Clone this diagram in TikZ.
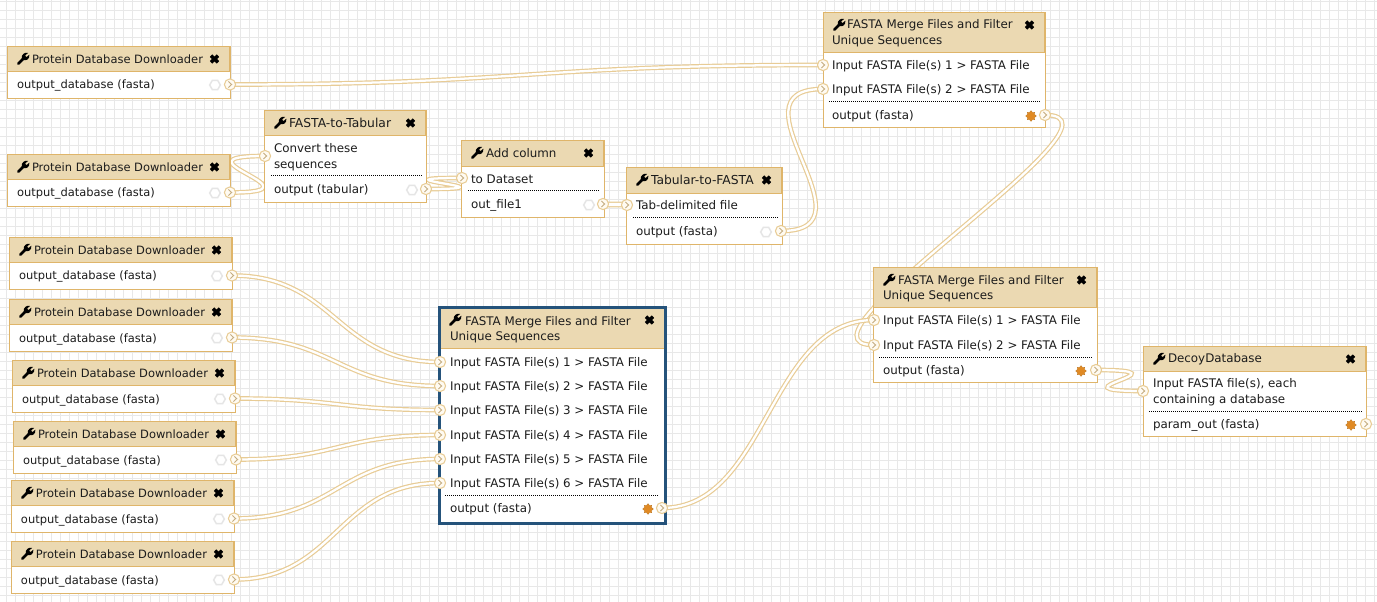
\documentclass[tikz,border=0pt]{standalone}
\usepackage{fontspec}
\setmainfont{DejaVu Sans}
\usetikzlibrary{calc,shapes.geometric}
\definecolor{tanline}{HTML}{DFB56A}
\definecolor{wirecol}{HTML}{E8CC96}
\definecolor{headfill}{HTML}{EBD9B2}
\definecolor{bluebord}{HTML}{25537B}
\definecolor{gridcol}{HTML}{E8E8E8}
\definecolor{inktext}{HTML}{1C1C1C}
\definecolor{termfill}{HTML}{FFFBF2}
\definecolor{orangemk}{HTML}{E08A24}
\pgfdeclarelayer{wires}
\pgfsetlayers{wires,main}
\tikzset{
  x=0.75pt,y=-0.75pt,
  gridline/.style={draw=gridcol,line width=0.75pt},
  wire/.style={draw=wirecol,line width=0.9pt,double=white,double distance=1.7pt},
  body/.style={draw=tanline,fill=white,line width=0.72pt,anchor=north west,inner sep=0pt,outer sep=0pt},
  selbody/.style={body,draw=bluebord,line width=2.25pt},
  headrule/.style={draw=tanline,fill=headfill,line width=0.6pt},
  lbl/.style={anchor=base west,inner sep=0pt,outer sep=0pt,text=inktext,font=\fontsize{8.9}{11}\selectfont},
  lblnarrow/.style={lbl,font=\fontsize{8.6}{11}\selectfont},
  lblwide/.style={lbl,font=\fontsize{9.25}{11}\selectfont},
  sep/.style={draw=black,line width=0.75pt,dash pattern=on 0.75pt off 0.75pt},
  term/.style={circle,draw=wirecol,fill=termfill,line width=0.8pt,minimum size=8.4pt,inner sep=0pt,outer sep=0pt},
  chev/.style={draw=wirecol!85!black,line width=0.7pt},
  graymk/.style={regular polygon,regular polygon sides=6,draw=black!10,fill=white,line width=1.1pt,minimum size=8pt,inner sep=0pt},
  orangemark/.style={star,star points=8,star point ratio=1.35,draw=orangemk!80!black,fill=orangemk,line width=0.2pt,minimum size=8pt,inner sep=0pt},
  pics/wrenchicon/.style={code={
    \begin{scope}[scale=1.12]
    \draw[black,line width=2pt,line cap=round] (1.2,10) -- (5.8,5.4);
    \fill[black] (4.2,5.5) .. controls (3.6,1.8) and (7,-0.6) .. (10,0.4) -- (7.2,2.6) -- (8.4,4.2) -- (11,2) .. controls (11.6,5.5) and (8.6,7.6) .. (5.8,6.8) -- cycle;
    \end{scope}
  }},
  pics/closeicon/.style={code={
    \draw[black,line width=2.6pt] (-3.5,-3.3) -- (3.5,3.3) (-3.5,3.3) -- (3.5,-3.3);
  }}
}
% name, x1, y1, x2, y2, y of header bottom, body style
\newcommand{\wfstep}[7]{%
  \node[#7,minimum width={(#4-#2)*0.75pt},minimum height={(#5-#3)*0.75pt}] (#1) at (#2,#3) {};
  \path[headrule] ({#2+0.5},{#3+0.5}) rectangle ({#4-0.5},#6);
  \draw[#7,fill=none,minimum width=0pt] (#2,#3) rectangle (#4,#5);
  \pic at ({#2+10},{#3+6.5}) {wrenchicon};
  \pic at ({#4-15.5},{#3+13}) {closeicon};
}
\newcommand{\lbl}[5][lbl]{\node[#1] (#2) at (#3,{#4+4.5}) {#5};}
\newcommand{\sepline}[3]{\draw[sep] (#1,#3) -- (#2,#3);}
\newcommand{\termn}[3]{%
  \node[term] (#1) at (#2,#3) {};
  \draw[chev] ({#2-1.6},{#3-3}) -- ({#2+1.6},#3) -- ({#2-1.6},{#3+3});
}
\newcommand{\wireto}[2]{%
  \begin{pgfonlayer}{wires}
  \draw[wire] let \p1=(#1.center),\p2=(#2.center),
     \n1={min(max(abs(\x2-\x1)/2,75),225)*1pt} in
     (\p1) .. controls ($(\p1)+(\n1,0pt)$) and ($(\p2)-(\n1,0pt)$) .. (\p2);
  \end{pgfonlayer}
}
% Protein Database Downloader: name, x1, y1
\newcommand{\pdb}[3]{%
  \wfstep{#1}{#2}{#3}{#2+223}{#3+52}{#3+25}{body}
  \lbl[lblnarrow]{#1-title}{#2+25}{#3+13}{Protein Database Downloader}
  \lbl[lblnarrow]{#1-row}{#2+10}{#3+38.5}{output\_database (fasta)}
  \node[graymk] (#1-mark) at ({#2+208},{#3+39}) {};
  \termn{#1-out}{#2+223}{#3+38.5}
}
\begin{document}
\begin{tikzpicture}
\useasboundingbox (0,0) rectangle (1377,602);
\begin{pgfonlayer}{wires}
  \fill[white] (0,0) rectangle (1377,602);
  \foreach \gx in {0,...,152} {\draw[gridline] ({6.5+9*\gx},0) -- ({6.5+9*\gx},602);}
  \foreach \gy in {0,...,66} {\draw[gridline] (0,{1.5+9*\gy}) -- (1377,{1.5+9*\gy});}
\end{pgfonlayer}

\pdb{pa}{7}{46}
\pdb{pb}{7}{154}
\pdb{pc}{9}{237}
\pdb{pd}{9}{299}
\pdb{pe}{12}{360}
\pdb{pf}{13}{421}
\pdb{pg}{11}{480}
\pdb{ph}{11}{541}

% FASTA-to-Tabular
\wfstep{ft}{264}{110}{426}{202}{135}{body}
\lbl[lblwide]{ft-title}{289}{123}{FASTA-to-Tabular}
\lbl{ft-r1}{274}{148}{Convert these}
\lbl{ft-r2}{274}{164}{sequences}
\sepline{271}{422}{176}
\lbl{ft-r3}{274}{189}{output (tabular)}
\node[graymk] (ft-mark) at (412,190) {};
\termn{ft-in}{265}{156}
\termn{ft-out}{426}{189}

% Add column
\wfstep{ac}{461}{140}{604}{217}{166}{body}
\lbl{ac-title}{486}{153}{Add column}
\lbl{ac-r1}{471}{179}{to Dataset}
\sepline{468}{600}{191}
\lbl{ac-r2}{471}{204}{out\_file1}
\node[graymk] (ac-mark) at (589,205) {};
\termn{ac-in}{462}{178}
\termn{ac-out}{603}{204}

% Tabular-to-FASTA
\wfstep{tf}{626}{167}{782}{244}{193}{body}
\lbl[lblwide]{tf-title}{651}{180}{Tabular-to-FASTA}
\lbl{tf-r1}{636}{205}{Tab-delimited file}
\sepline{633}{778}{218}
\lbl{tf-r2}{636}{231}{output (fasta)}
\node[graymk] (tf-mark) at (766,232) {};
\termn{tf-in}{627}{205}
\termn{tf-out}{781}{231}

% Merge 1
\wfstep{ma}{823}{12}{1045}{127}{52}{body}
\lbl{ma-title}{847}{24}{FASTA Merge Files and Filter}
\lbl{ma-title2}{832}{40}{Unique Sequences}
\lbl{ma-r1}{832}{65}{Input FASTA File(s) 1 > FASTA File}
\lbl{ma-r2}{832}{89}{Input FASTA File(s) 2 > FASTA File}
\sepline{829}{1041}{102}
\lbl{ma-r3}{832}{115}{output (fasta)}
\node[orangemark] (ma-mark) at (1031,116) {};
\termn{ma-in1}{823}{65}
\termn{ma-in2}{823}{89}
\termn{ma-out}{1045}{115}

% Merge 2
\wfstep{mb}{873}{267}{1097}{382}{307}{body}
\lbl{mb-title}{898}{280}{FASTA Merge Files and Filter}
\lbl{mb-title2}{883}{295}{Unique Sequences}
\lbl{mb-r1}{883}{320}{Input FASTA File(s) 1 > FASTA File}
\lbl{mb-r2}{883}{345}{Input FASTA File(s) 2 > FASTA File}
\sepline{879}{1092}{357}
\lbl{mb-r3}{883}{370}{output (fasta)}
\node[orangemark] (mb-mark) at (1081,371) {};
\termn{mb-in1}{874}{320}
\termn{mb-in2}{874}{345}
\termn{mb-out}{1096}{370}

% Decoy
\wfstep{dd}{1143}{346}{1366}{436}{371}{body}
\lbl{dd-title}{1168}{358}{DecoyDatabase}
\lbl{dd-r1}{1153}{383}{Input FASTA file(s), each}
\lbl{dd-r2}{1153}{399}{containing a database}
\sepline{1149}{1362}{411}
\lbl{dd-r3}{1153}{424}{param\_out (fasta)}
\node[orangemark] (dd-mark) at (1351,425) {};
\termn{dd-in}{1143}{391}
\termn{dd-out}{1366}{424}

% Selected merge
\wfstep{mc}{439}{307}{665}{523}{348}{selbody}
\lbl{mc-title}{465}{321}{FASTA Merge Files and Filter}
\lbl{mc-title2}{450}{336}{Unique Sequences}
\lbl{mc-r1}{450}{362}{Input FASTA File(s) 1 > FASTA File}
\lbl{mc-r2}{450}{386}{Input FASTA File(s) 2 > FASTA File}
\lbl{mc-r3}{450}{410}{Input FASTA File(s) 3 > FASTA File}
\lbl{mc-r4}{450}{435}{Input FASTA File(s) 4 > FASTA File}
\lbl{mc-r5}{450}{459}{Input FASTA File(s) 5 > FASTA File}
\lbl{mc-r6}{450}{483}{Input FASTA File(s) 6 > FASTA File}
\sepline{445}{658}{495}
\lbl{mc-r7}{450}{508}{output (fasta)}
\node[orangemark] (mc-mark) at (648,509) {};
\termn{mc-in1}{440}{362}
\termn{mc-in2}{440}{386}
\termn{mc-in3}{440}{410}
\termn{mc-in4}{440}{435}
\termn{mc-in5}{440}{459}
\termn{mc-in6}{440}{483}
\termn{mc-out}{662}{508}

% Connectors
\wireto{pa-out}{ma-in1}
\wireto{pb-out}{ft-in}
\wireto{ft-out}{ac-in}
\wireto{ac-out}{tf-in}
\wireto{tf-out}{ma-in2}
\wireto{ma-out}{mb-in2}
\wireto{mc-out}{mb-in1}
\wireto{mb-out}{dd-in}
\wireto{pc-out}{mc-in1}
\wireto{pd-out}{mc-in2}
\wireto{pe-out}{mc-in3}
\wireto{pf-out}{mc-in4}
\wireto{pg-out}{mc-in5}
\wireto{ph-out}{mc-in6}
\end{tikzpicture}
\end{document}
